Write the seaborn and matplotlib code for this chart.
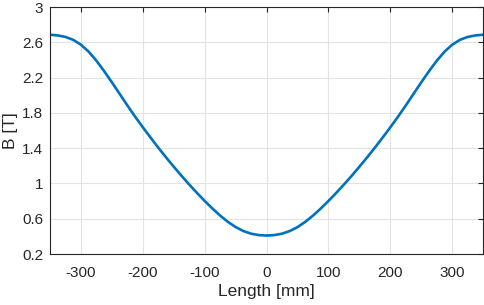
import numpy as np
import pandas as pd
import matplotlib
matplotlib.use("Agg")
import matplotlib.pyplot as plt
import seaborn as sns

# Field profile, every 12.5 mm (symmetric around 0)
half_len = [0, 12.5, 25, 37.5, 50, 62.5, 75, 87.5, 100, 112.5, 125, 137.5, 150, 162.5, 175,
            187.5, 200, 212.5, 225, 237.5, 250, 262.5, 275, 287.5, 300, 312.5, 325, 337.5, 350]
half_b = [0.41, 0.415, 0.431, 0.461, 0.506, 0.565, 0.636, 0.716, 0.802, 0.893, 0.988, 1.087,
          1.19, 1.296, 1.406, 1.52, 1.637, 1.758, 1.885, 2.016, 2.147, 2.273, 2.391, 2.494,
          2.573, 2.628, 2.661, 2.678, 2.686]

length_mm = [-v for v in half_len[:0:-1]] + half_len
b_tesla = half_b[:0:-1] + half_b

x_ticks = [-300, -200, -100, 0, 100, 200, 300]
y_ticks = [0.2, 0.6, 1.0, 1.4, 1.8, 2.2, 2.6, 3.0]
y_labels = ["0.2", "0.6", "1", "1.4", "1.8", "2.2", "2.6", "3"]

sns.set_style("white")
plt.rcParams['font.family'] = ['Liberation Sans', 'DejaVu Sans']
plt.rcParams['axes.unicode_minus'] = False

df = pd.DataFrame({'Length': length_mm, 'B': b_tesla})

fig = plt.figure(figsize=(4.84, 3.05), dpi=100)
ax = fig.add_axes([0.1033, 0.167, 0.895, 0.81])

sns.lineplot(data=df, x='Length', y='B', ax=ax, color='#0072BD', linewidth=1.9)

ax.set_xlim(-350, 350)
ax.set_ylim(0.2, 3.0)
ax.set_xticks(x_ticks)
ax.set_yticks(y_ticks)
ax.set_yticklabels(y_labels)
ax.grid(True, color='#e3e3e3', linewidth=0.8)
ax.set_axisbelow(True)

for s in ax.spines.values():
    s.set_color('#262626')
    s.set_linewidth(0.8)
ax.tick_params(direction='in', length=3.5, width=0.8, color='#262626',
               top=True, right=True, labelsize=11, labelcolor='#262626')
ax.tick_params(axis='x', pad=8.5)
ax.tick_params(axis='y', pad=5)

ax.set_xlabel('Length [mm]', fontsize=12.5, color='#262626', labelpad=3)
ax.set_ylabel('B [T]', fontsize=12.5, color='#262626', labelpad=3)

fig.savefig('out.png', dpi=100)
